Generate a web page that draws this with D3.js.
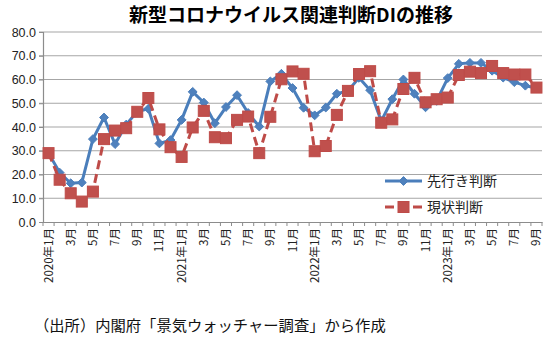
<!DOCTYPE html>
<html><head><meta charset="utf-8">
<script src="https://cdn.jsdelivr.net/npm/d3@7"></script>
<style>
body{margin:0;background:#fff;}
svg{display:block;}
</style></head>
<body>
<svg id="chart" width="550" height="340"></svg>
<script>
const months = [
 "2020年1月","2月","3月","4月","5月","6月","7月","8月","9月","10月","11月","12月",
 "2021年1月","2月","3月","4月","5月","6月","7月","8月","9月","10月","11月","12月",
 "2022年1月","2月","3月","4月","5月","6月","7月","8月","9月","10月","11月","12月",
 "2023年1月","2月","3月","4月","5月","6月","7月","8月","9月"];
const outlook = [
 29.0,20.8,16.3,16.6,34.9,44.0,32.8,41.0,46.5,47.7,33.1,34.5,
 43.0,54.8,50.3,41.6,48.4,53.4,45.9,40.2,59.2,62.4,56.4,48.1,
 44.9,48.2,54.0,55.2,60.7,55.5,42.5,51.7,60.0,54.0,48.3,51.0,
 60.6,66.6,67.0,67.0,63.7,60.8,58.9,57.4,56.4];
const current = [
 29.0,17.8,12.1,8.6,12.8,34.9,38.5,39.5,46.4,52.2,39.0,31.5,
 27.4,39.8,46.8,35.7,35.3,43.0,44.4,29.0,44.3,60.1,63.4,62.4,
 29.8,32.0,45.1,55.2,62.3,63.5,41.8,43.2,56.0,60.7,50.4,51.7,
 52.4,61.9,63.3,62.7,65.7,62.7,62.1,62.1,56.6];
const yTicks = [0,10,20,30,40,50,60,70,80];
const seriesNames = ["先行き判断","現状判断"];
const title = "新型コロナウイルス関連判断DIの推移";
const source = "（出所）内閣府「景気ウォッチャー調査」から作成";

(function(){
const svg = d3.select("#chart");
const pl = 43, pr = 542, pt = 32, pb = 222;
const jp = "'Noto Sans CJK JP','Noto Sans',sans-serif";
const blue = "#4A7EBB", blueM = "#4F81BD", red = "#BE4B48", redM = "#C0504D";

const x = d3.scaleBand().domain(d3.range(months.length)).range([pl, pr]).padding(0);
const y = d3.scaleLinear().domain([0, 80]).range([pb, pt]);
const cx = i => x(i) + x.bandwidth() / 2;

// title
svg.append("text").attr("x", 291).attr("y", 22).attr("text-anchor", "middle")
  .attr("font-family", jp).attr("font-weight", "bold").attr("font-size", 19)
  .attr("fill", "#000").text(title);

// gridlines
svg.append("g").selectAll("line").data(yTicks.filter(d => d > 0)).join("line")
  .attr("x1", pl - 4).attr("x2", pr).attr("y1", d => y(d)).attr("y2", d => y(d))
  .attr("stroke", "#a6a6a6").attr("stroke-width", 1.2);

// y axis
const ya = svg.append("g").attr("transform", `translate(${pl},0)`)
  .call(d3.axisLeft(y).tickValues(yTicks).tickFormat(d3.format(".1f")).tickSize(4).tickPadding(3));
ya.select(".domain").attr("stroke", "#8c8c8c").attr("stroke-width", 1.2);
ya.selectAll(".tick line").attr("stroke", "#8c8c8c");
ya.selectAll("text").attr("font-family", "'Liberation Sans',Arial,sans-serif").attr("font-size", 12.5).attr("fill", "#222");

// x axis (labels at band centers, ticks at band boundaries)
const xa = svg.append("g").attr("transform", `translate(0,${pb})`)
  .call(d3.axisBottom(x).tickValues(d3.range(0, months.length, 2)).tickFormat(i => months[i]).tickSize(0).tickPadding(0));
xa.select(".domain").attr("stroke", "#8c8c8c").attr("stroke-width", 1.2);
xa.selectAll("text").attr("font-family", jp).attr("font-size", 11.5).attr("fill", "#222")
  .attr("text-anchor", "end").attr("dy", "0.35em")
  .attr("transform", "translate(0,6) rotate(-90)").attr("x", 0).attr("y", 0);
const bounds = d3.range(months.length).map(i => x(i)).concat([x.range()[1]]);
svg.append("g").selectAll("line").data(bounds).join("line")
  .attr("x1", d => d).attr("x2", d => d).attr("y1", pb).attr("y2", pb + 4)
  .attr("stroke", "#8c8c8c").attr("stroke-width", 1);

// lines
const line = d3.line().x((d, i) => cx(i)).y(d => y(d));
svg.append("path").datum(outlook).attr("d", line).attr("fill", "none")
  .attr("stroke", blue).attr("stroke-width", 3).attr("stroke-linejoin", "round");
const diamond = d3.symbol().type(d3.symbolDiamond2).size(50);
svg.append("g").selectAll("path").data(outlook).join("path")
  .attr("d", diamond).attr("transform", (d, i) => `translate(${cx(i)},${y(d)})`)
  .attr("fill", blueM).attr("stroke", blue).attr("stroke-width", 1);

svg.append("path").datum(current).attr("d", line).attr("fill", "none")
  .attr("stroke", red).attr("stroke-width", 3).attr("stroke-dasharray", "9,5");
svg.append("g").selectAll("rect").data(current).join("rect")
  .attr("x", (d, i) => cx(i) - 5.5).attr("y", d => y(d) - 5.5).attr("width", 11).attr("height", 11)
  .attr("fill", redM).attr("stroke", red).attr("stroke-width", 1);

// legend
const leg = svg.append("g");
const ly = [181, 207];
leg.append("line").attr("x1", 385).attr("x2", 422).attr("y1", ly[0]).attr("y2", ly[0])
  .attr("stroke", blue).attr("stroke-width", 3);
leg.append("path").attr("d", diamond).attr("transform", `translate(403.5,${ly[0]})`)
  .attr("fill", blueM).attr("stroke", blue);
leg.append("line").attr("x1", 385).attr("x2", 422).attr("y1", ly[1]).attr("y2", ly[1])
  .attr("stroke", red).attr("stroke-width", 3).attr("stroke-dasharray", "9,5");
leg.append("rect").attr("x", 398).attr("y", ly[1] - 5.5).attr("width", 11).attr("height", 11)
  .attr("fill", redM).attr("stroke", red);
leg.selectAll("text").data(seriesNames).join("text")
  .attr("x", 427).attr("y", (d, i) => ly[i]).attr("dy", "0.35em")
  .attr("font-family", jp).attr("font-size", 14).attr("fill", "#222").text(d => d);

// source
svg.append("text").attr("x", 34).attr("y", 331)
  .attr("font-family", jp).attr("font-size", 15.3).attr("fill", "#111").text(source);
})();
</script>
</body></html>
